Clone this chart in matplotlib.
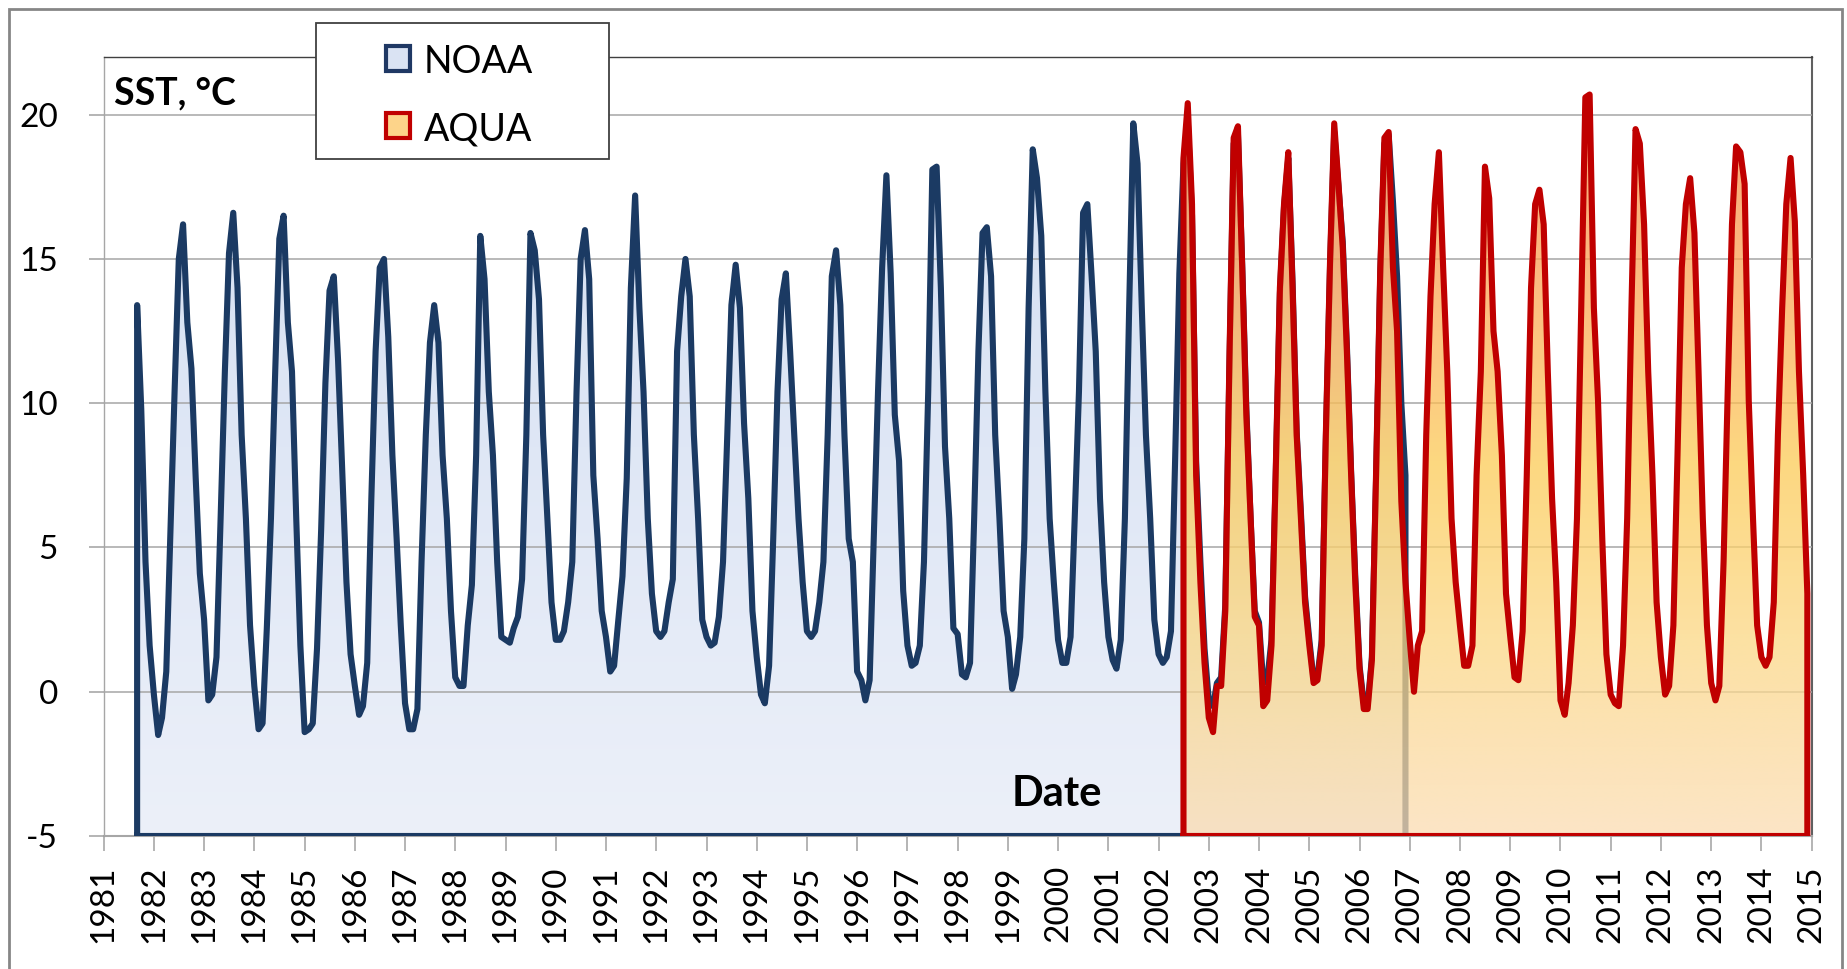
import numpy as np
import pandas as pd
import matplotlib
matplotlib.use('Agg')
import matplotlib.pyplot as plt
import matplotlib.dates as mdates
from matplotlib.patches import Rectangle, PathPatch
from matplotlib.path import Path

plt.rcParams['font.family'] = ['Lato', 'DejaVu Sans']

# ---------------- data ----------------
series_names = ['NOAA', 'AQUA']
noaa_start = '1981-09-01'
noaa_sst = [
    13.4, 9.8, 4.5, 1.6,
    -0.1, -1.5, -0.9, 0.7, 5.5, 10.5, 15.0, 16.2, 12.8, 11.2, 7.4, 4.1,
    2.5, -0.3, -0.1, 1.2, 6.0, 11.1, 15.2, 16.6, 14.0, 8.9, 6.0, 2.3,
    0.2, -1.3, -1.1, 2.2, 6.0, 11.1, 15.7, 16.5, 12.8, 11.1, 6.0, 1.6,
    -1.4, -1.3, -1.1, 1.5, 5.6, 10.7, 13.9, 14.4, 11.5, 7.7, 3.8, 1.3,
    0.2, -0.8, -0.5, 1.0, 6.7, 11.8, 14.7, 15.0, 12.3, 8.2, 5.3, 2.3,
    -0.4, -1.3, -1.3, -0.6, 4.5, 8.9, 12.1, 13.4, 12.1, 8.2, 6.0, 2.8,
    0.5, 0.2, 0.2, 2.3, 3.7, 8.2, 15.8, 14.3, 10.4, 8.2, 4.5, 1.9,
    1.8, 1.7, 2.2, 2.6, 3.9, 8.9, 15.9, 15.3, 13.6, 8.9, 6.0, 3.1,
    1.8, 1.8, 2.1, 3.1, 4.5, 10.4, 15.0, 16.0, 14.3, 7.5, 5.3, 2.8,
    1.9, 0.7, 0.9, 2.5, 4.0, 7.4, 14.0, 17.2, 13.3, 10.4, 6.0, 3.4,
    2.1, 1.9, 2.1, 3.1, 3.9, 11.8, 13.7, 15.0, 13.7, 8.9, 6.0, 2.5,
    1.9, 1.6, 1.7, 2.6, 4.5, 8.9, 13.4, 14.8, 13.3, 9.3, 6.7, 2.8,
    1.2, -0.1, -0.4, 0.9, 5.3, 10.4, 13.6, 14.5, 11.8, 8.9, 6.0, 3.8,
    2.1, 1.9, 2.1, 3.1, 4.5, 8.9, 14.4, 15.3, 13.4, 8.9, 5.3, 4.5,
    0.7, 0.4, -0.3, 0.4, 5.3, 10.4, 14.7, 17.9, 14.5, 9.6, 8.0, 3.5,
    1.6, 0.9, 1.0, 1.6, 4.5, 10.4, 18.1, 18.2, 14.0, 8.5, 6.0, 2.2,
    2.0, 0.6, 0.5, 1.0, 6.0, 11.8, 15.9, 16.1, 14.4, 8.9, 6.0, 2.8,
    1.9, 0.1, 0.6, 1.9, 5.3, 13.3, 18.8, 17.8, 15.8, 10.4, 6.0, 3.8,
    1.8, 1.0, 1.0, 1.9, 6.0, 10.4, 16.6, 16.9, 14.4, 11.8, 6.7, 3.8,
    1.9, 1.1, 0.8, 1.8, 6.0, 13.3, 19.7, 18.3, 13.3, 8.9, 6.0, 2.5,
    1.3, 1.0, 1.2, 2.1, 8.0, 14.5, 18.3, 19.8, 16.5, 8.0, 4.5, 1.5,
    -0.3, -0.5, 0.3, 0.5, 3.0, 11.5, 19.0, 19.3, 14.8, 9.8, 6.0, 2.8,
    2.4, 0.3, 0.4, 1.8, 7.3, 13.8, 16.8, 18.5, 14.2, 9.0, 6.2, 3.3,
    1.8, 0.4, 0.5, 1.8, 8.7, 14.8, 19.4, 17.5, 15.6, 12.0, 7.6, 4.0,
    0.9, -0.4, -0.5, 1.2, 7.3, 14.5, 19.0, 19.3, 17.0, 14.4, 10.0, 7.5,
]
aqua_start = '2002-07-01'
aqua_sst = [
    18.5, 20.4, 16.9, 7.5, 3.8, 1.0,
    -0.9, -1.4, 0.2, 0.2, 2.8, 11.8, 19.2, 19.6, 14.7, 9.6, 6.0, 2.6,
    2.3, -0.5, -0.3, 1.6, 7.5, 14.0, 16.9, 18.7, 14.0, 8.9, 6.0, 3.1,
    1.6, 0.3, 0.4, 1.6, 8.9, 15.0, 19.7, 17.6, 15.4, 11.8, 7.5, 3.8,
    0.8, -0.6, -0.6, 1.1, 7.5, 14.7, 19.2, 19.4, 14.7, 12.5, 6.6, 3.8,
    1.8, 0.0, 1.6, 2.1, 8.9, 13.7, 16.9, 18.7, 14.7, 11.1, 6.0, 3.8,
    2.3, 0.9, 0.9, 1.6, 7.5, 11.1, 18.2, 17.1, 12.5, 11.1, 8.2, 3.4,
    1.9, 0.5, 0.4, 2.1, 7.5, 14.0, 16.9, 17.4, 16.2, 11.1, 6.7, 3.8,
    -0.3, -0.8, 0.3, 2.3, 6.0, 13.3, 20.6, 20.7, 13.3, 10.1, 5.3, 1.3,
    -0.1, -0.4, -0.5, 1.6, 6.0, 13.3, 19.5, 19.0, 16.2, 11.1, 7.5, 3.1,
    1.2, -0.1, 0.2, 2.3, 8.2, 14.7, 16.9, 17.8, 15.9, 11.1, 6.0, 2.3,
    0.3, -0.3, 0.2, 4.5, 10.4, 16.2, 18.9, 18.7, 17.6, 10.1, 6.0, 2.3,
    1.2, 0.9, 1.2, 3.1, 8.9, 13.3, 16.9, 18.5, 16.3, 11.1, 7.5, 3.4,
]
y_ticks = [-5, 0, 5, 10, 15, 20]
year_ticks = list(range(1981, 2016))
y_title = 'SST, °C'
x_title = 'Date'

# ---------------- figure ----------------
W, H = 1847, 969
fig = plt.figure(figsize=(W / 100, H / 100), dpi=100)
fx = lambda px: px / W
fy = lambda py: 1 - py / H

ax = fig.add_axes([fx(103.7), fy(836), (1811.6 - 103.7) / W, (836 - 57) / H])
ymin, ymax = -5, 22.0

noaa_x = mdates.date2num(pd.date_range(noaa_start, periods=len(noaa_sst), freq='MS'))
aqua_x = mdates.date2num(pd.date_range(aqua_start, periods=len(aqua_sst), freq='MS'))
noaa_y = np.array(noaa_sst)
aqua_y = np.array(aqua_sst)


def closed(x, y):
    xs = np.concatenate([[x[0]], x, [x[-1], x[0]]])
    ys = np.concatenate([[ymin], y, [ymin, ymin]])
    return xs, ys


def gradient_fill(x, y, stop_vals, stop_rgba, zorder):
    xs, ys = closed(x, y)
    path = Path(np.column_stack([xs, ys]), closed=True)
    patch = PathPatch(path, transform=ax.transData, facecolor='none', edgecolor='none')
    ax.add_patch(patch)
    n = 400
    vv = np.linspace(ymin, ymax, n)
    img = np.zeros((n, 1, 4))
    for c in range(4):
        img[:, 0, c] = np.interp(vv, stop_vals, stop_rgba[:, c])
    im = ax.imshow(img, extent=[x[0], x[-1], ymin, ymax], origin='lower',
                   aspect='auto', zorder=zorder, interpolation='bilinear')
    im.set_clip_path(patch)


# NOAA gradient (opaque light blue)
noaa_stops_v = [-5, 22]
noaa_stops = np.array([[236, 240, 249, 255], [210, 222, 242, 255]]) / 255.0
gradient_fill(noaa_x, noaa_y, noaa_stops_v, noaa_stops, zorder=2)

# AQUA gradient (semi-transparent orange/yellow)
alpha = 0.75
aqua_stops_v = [-5, 2, 8, 14, 20, 22]
aqua_eff = np.array([[252, 229, 198], [252, 225, 162], [253, 216, 128],
                     [252, 188, 128], [250, 165, 120], [249, 158, 116]], float)
aqua_rgb = np.clip((aqua_eff - (1 - alpha) * 255) / alpha, 0, 255) / 255.0
aqua_stops = np.column_stack([aqua_rgb, np.full(len(aqua_stops_v), alpha)])

lw_series = 4.4

# NOAA outline (under AQUA fill)
xs, ys = closed(noaa_x, noaa_y)
ax.plot(xs, ys, color='#1b3a63', lw=lw_series, solid_joinstyle='round', zorder=3)

gradient_fill(aqua_x, aqua_y, aqua_stops_v, aqua_stops, zorder=4)

xs, ys = closed(aqua_x, aqua_y)
ax.plot(xs, ys, color='#c00000', lw=lw_series, solid_joinstyle='round', zorder=5)

# ---------------- axes styling ----------------
ax.set_ylim(ymin, ymax)
ax.set_xlim(mdates.date2num(pd.Timestamp('1981-01-01')), mdates.date2num(pd.Timestamp('2015-01-01')))
ax.set_yticks(y_ticks)
ax.set_yticklabels([str(v) for v in y_ticks])
tick_pos = mdates.date2num(pd.to_datetime([f'{y}-01-01' for y in year_ticks]))
ax.set_xticks(tick_pos)
ax.set_xticklabels([str(y) for y in year_ticks], rotation=90)

ax.set_axisbelow(False)
ax.yaxis.grid(True, color='#a6a6a6', lw=1.1)
ax.xaxis.grid(False)
ax.tick_params(axis='x', direction='out', length=11, width=1.1, color='#a0a0a0',
               pad=10, labelsize=24)
ax.tick_params(axis='y', direction='out', length=11, width=1.1, color='#a0a0a0',
               pad=22, labelsize=24)
ax.spines['top'].set_color('#404040')
ax.spines['top'].set_linewidth(1.0)
ax.spines['right'].set_color('#606060')
ax.spines['right'].set_linewidth(1.5)
ax.spines['left'].set_color('#a6a6a6')
ax.spines['left'].set_linewidth(1.0)
ax.spines['bottom'].set_color('#a6a6a6')
ax.spines['bottom'].set_linewidth(1.5)
ax.set_facecolor('white')

# titles inside plot
fig.text(fx(114), fy(104), y_title, fontsize=27, fontweight='bold', va='baseline', ha='left')
fig.text(fx(1057), fy(806), x_title, fontsize=30, fontweight='bold', va='baseline', ha='center')

# ---------------- legend (manual box) ----------------
fig.add_artist(Rectangle((fx(316), fy(159)), (609 - 316) / W, (159 - 23.5) / H,
                         transform=fig.transFigure, facecolor='white',
                         edgecolor='#404040', lw=1.3, zorder=10))
swatches = [('#dae3f3', '#1f3864', 46, 73), ('#fdd48a', '#c00000', 113, 140)]
for name, (fc, ec, top, base) in zip(series_names, swatches):
    fig.add_artist(Rectangle((fx(386), fy(top + 25)), 24 / W, 25 / H,
                             transform=fig.transFigure, facecolor=fc,
                             edgecolor=ec, lw=3.0, zorder=11))
    fig.text(fx(424), fy(base), name, fontsize=27, va='baseline', ha='left', zorder=12)

# outer frame
fig.add_artist(Rectangle((fx(9), fy(1000)), (1842 - 9) / W, (1000 - 9) / H,
                         transform=fig.transFigure, fill=False,
                         edgecolor='#868686', lw=2.0, zorder=0))

fig.savefig('out.png', dpi=100)
